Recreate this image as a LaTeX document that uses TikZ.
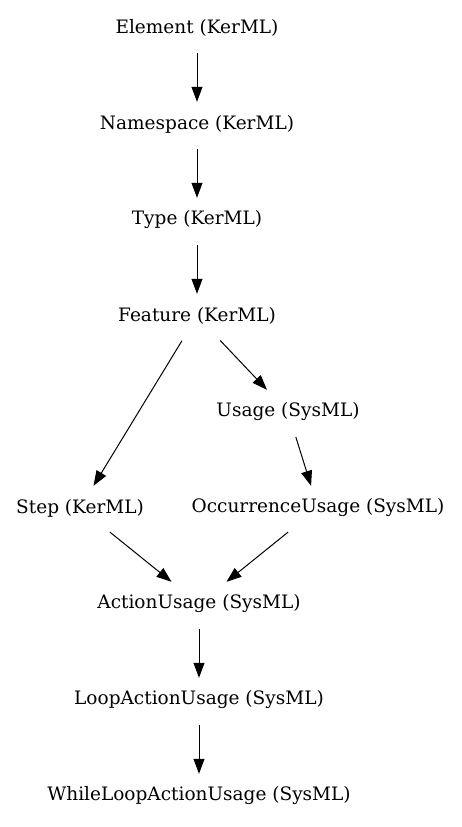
\documentclass[tikz,border=0pt]{standalone}
\usepackage{fontspec}
\setmainfont{DejaVu Serif}
\usetikzlibrary{arrows.meta}

\begin{document}
\begin{tikzpicture}[x=1pt,y=-1pt,
cls/.style={rectangle,minimum width=3.5cm,minimum height=44pt,inner sep=2pt,font=\fontsize{18.5}{22}\selectfont},
gen/.style={-{Triangle[length=15pt,width=11pt]},line width=1pt,black,shorten <=3pt}]
	\useasboundingbox (0,0) rectangle (461,827);
	\node[cls] at (197,28) (element) {Element (KerML)};
	\node[cls] at (197,124) (namespace) {Namespace (KerML)};
	\node[cls] at (197,220) (type) {Type (KerML)};
	\node[cls] at (197,316) (feature) {Feature (KerML)};
	\node[cls] at (288,412) (usage) {Usage (SysML)};
	\node[cls] at (80,508) (step) {Step (KerML)};
	\node[cls] at (318,508) (occ) {OccurrenceUsage (SysML)};
	\node[cls] at (199,604) (action) {ActionUsage (SysML)};
	\node[cls] at (199,700) (loop) {LoopActionUsage (SysML)};
	\node[cls] at (199,796) (while) {WhileLoopActionUsage (SysML)};
	
	\draw[gen] (element) -- (namespace);
	\draw[gen] (namespace) -- (type);
	\draw[gen] (type) -- (feature);
	\draw[gen] (feature) -- (usage);
	\draw[gen] (feature) -- (step);
	\draw[gen] (usage) -- (occ);
	\draw[gen] (step) -- (action);
	\draw[gen] (occ) -- (action);
	\draw[gen] (action) -- (loop);
	\draw[gen] (loop) -- (while);
\end{tikzpicture}
\end{document}
